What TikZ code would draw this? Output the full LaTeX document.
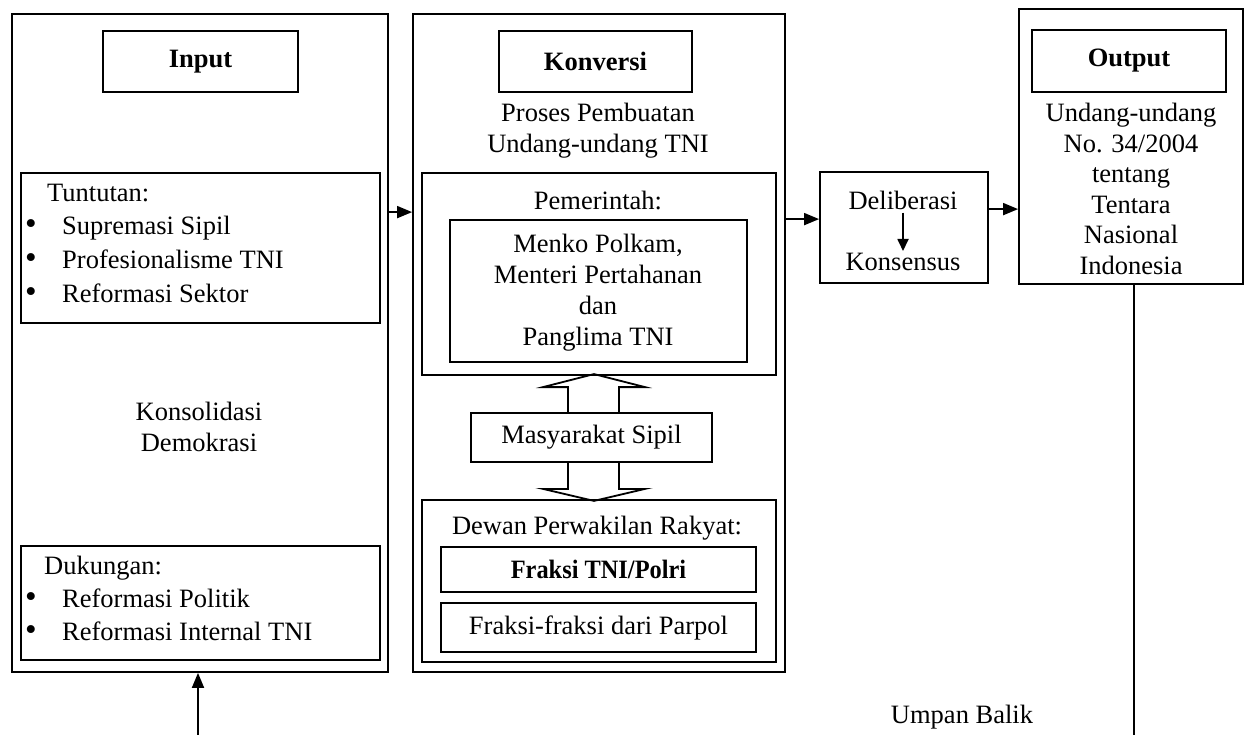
\documentclass[tikz,border=0pt]{standalone}
\usepackage{fontspec}
\setmainfont{Liberation Serif}
\usetikzlibrary{arrows.meta,calc}
\newcommand{\bul}{\makebox[37pt][l]{\scalebox{1.25}{•}}}
\begin{document}
\begin{tikzpicture}[x=1pt,y=-1pt,
  every node/.style={font=\fontsize{26.5}{31}\selectfont, inner sep=0pt},
  box/.style={draw, line width=1.8pt, rectangle},
  arr/.style={line width=1.8pt, -{Triangle[length=15pt,width=12pt]}},
  ln/.style={line width=1.8pt},
  hollow/.style={line width=1.8pt, line join=miter},
  item/.style={anchor=mid west}]
\useasboundingbox (0,0) rectangle (1247,735);

% ---- Input column
\node[box, minimum width=376pt, minimum height=658pt] (inOuter) at (200,343) {};
\node[box, minimum width=195pt, minimum height=61pt] (inTitle) at (200.5,61.5) {\bfseries Input};
\node[box, minimum width=359pt, minimum height=150pt] (tuntBox) at (200.5,248) {};
\node[item] (tunt0) at (47,199) {Tuntutan:};
\node[item] (tunt1) at (25,232) {\bul Supremasi Sipil};
\node[item] (tunt2) at (25,266) {\bul Profesionalisme TNI};
\node[item] (tunt3) at (25,300) {\bul Reformasi Sektor};
\node[align=center] (kons) at (199,427) {Konsolidasi\\Demokrasi};
\node[box, minimum width=359pt, minimum height=114pt] (dukBox) at (200.5,603) {};
\node[item] (duk0) at (44,572) {Dukungan:};
\node[item] (duk1) at (25,605) {\bul Reformasi Politik};
\node[item] (duk2) at (25,638) {\bul Reformasi Internal TNI};

% ---- Konversi column
\node[box, minimum width=372pt, minimum height=658pt] (konOuter) at (599,343) {};
\node[box, minimum width=193pt, minimum height=61pt] (konTitle) at (595.5,61.5) {\bfseries Konversi};
\node[align=center] (proses) at (598,131) {Proses Pembuatan\\Undang-undang TNI};
\node[box, minimum width=354pt, minimum height=202pt] (pemBox) at (599,274) {};
\node (pemT) at (598,200) {Pemerintah:};
\node[box, minimum width=297pt, minimum height=142pt] (menkoBox) at (598.5,291) {};
\node[align=center] (menkoT) at (598,293) {Menko Polkam,\\Menteri Pertahanan\\dan\\Panglima TNI};
\node[box, minimum width=241pt, minimum height=49pt] (masBox) at (591.5,437.5) {Masyarakat Sipil};
\node[box, minimum width=354pt, minimum height=162pt] (dprBox) at (599,581) {};
\node (dprT) at (597,528) {Dewan Perwakilan Rakyat:};
\node[box, minimum width=315pt, minimum height=45pt] (fTNI) at (598.5,569.5) {\scalebox{0.92}[1]{\bfseries Fraksi TNI/Polri}};
\node[box, minimum width=315pt, minimum height=49pt] (fPar) at (598.5,627.5) {Fraksi-fraksi dari Parpol};

% hollow double arrows
\draw[hollow] ($(masBox.north)+(-23.5,0)$) -- ++(0,-25) -- ++(-25,0) -- ($(masBox.north)+(2.5,-38)$)
  -- ($(masBox.north)+(53.5,-25)$) -- ++(-26,0) -- ($(masBox.north)+(27.5,0)$);
\draw[hollow] ($(masBox.south)+(-23.5,0)$) -- ++(0,26) -- ++(-25,0) -- ($(masBox.south)+(2.5,38)$)
  -- ($(masBox.south)+(53.5,26)$) -- ++(-26,0) -- ($(masBox.south)+(27.5,0)$);

% ---- Deliberasi
\node[box, minimum width=168pt, minimum height=111pt] (delibBox) at (904,227.5) {};
\node (delibT) at (903,200) {Deliberasi};
\node (konsT) at (903,262) {Konsensus};
\draw[line width=1.8pt, -{Triangle[length=12pt,width=11pt]}] ($(delibT.south)+(0,3)$) -- ($(konsT.north)+(0,-2)$);

% ---- Output
\node[box, minimum width=224pt, minimum height=275pt] (outOuter) at (1131,146.5) {};
\node[box, minimum width=194pt, minimum height=62pt] (outTitle) at (1129,61) {\bfseries Output};
\node[align=center, font=\fontsize{26.5}{30.6}\selectfont] (outT) at (1131,189) {Undang-undang\\No. 34/2004\\tentang\\Tentara\\Nasional\\Indonesia};

% ---- connectors
\coordinate (a1) at ($(inOuter.north east)+(0,199)$);
\draw[arr] (a1) -- (a1 -| konOuter.west);
\coordinate (a2) at ($(konOuter.north east)+(0,206)$);
\draw[arr] (a2) -- (a2 -| delibBox.west);
\coordinate (a3) at ($(delibBox.north east)+(0,38)$);
\draw[arr] (a3) -- (a3 -| outOuter.west);

% feedback
\coordinate (fbR) at (1134,735);
\coordinate (fbL) at (198,735);
\draw[ln] (outOuter.south -| fbR) -- (fbR);
\draw[arr] (fbL) -- (fbL |- inOuter.south);
\node (umpan) at (962,717) {Umpan Balik};
\end{tikzpicture}
\end{document}
